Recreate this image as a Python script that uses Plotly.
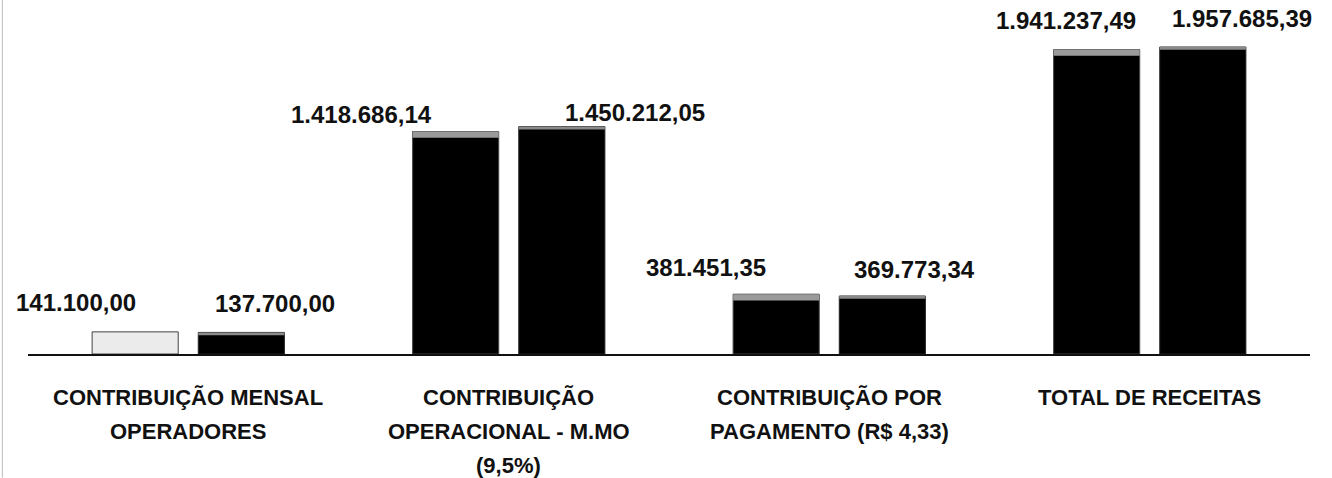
import plotly.graph_objects as go

categories = ["CONTRIBUIÇÃO MENSAL\nOPERADORES",
              "CONTRIBUIÇÃO\nOPERACIONAL - M.MO\n(9,5%)",
              "CONTRIBUIÇÃO POR\nPAGAMENTO (R$ 4,33)",
              "TOTAL DE RECEITAS"]
series_a = [141100.00, 1418686.14, 381451.35, 1941237.49]
series_b = [137700.00, 1450212.05, 369773.34, 1957685.39]

def fmt(v):
    s = f"{v:,.2f}"
    return s.replace(",", "X").replace(".", ",").replace("X", ".")

xs = list(range(len(categories)))
font = "Liberation Sans"

fig = go.Figure()
fig.add_trace(go.Bar(x=xs, y=series_a, name="A", offsetgroup="A",
                     marker=dict(color=["#ebebeb", "#000000", "#000000", "#000000"],
                                 line=dict(color="#444444", width=1))))
fig.add_trace(go.Bar(x=xs, y=series_b, name="B", offsetgroup="B",
                     marker=dict(color="#000000", line=dict(color="#222222", width=1))))

# subtle light band at the top of the dark bars (3D bevel look)
band_a, band_b = 40000, 18000
fig.add_trace(go.Bar(x=xs[1:], y=[band_a] * 3, base=[v - band_a for v in series_a[1:]],
                     offsetgroup="A", marker=dict(color="#9a9a9a", line=dict(width=0)),
                     hoverinfo="skip"))
fig.add_trace(go.Bar(x=xs, y=[band_b] * 4, base=[v - band_b for v in series_b],
                     offsetgroup="B", marker=dict(color="#8a8a8a", line=dict(width=0)),
                     hoverinfo="skip"))

# value label offsets (style)
a_dx = [-59, -94, -70, -31]
a_dy = [29, 17, 27, 29]
b_dx = [34, 73, 32, 39]
b_dy = [29, 14, 27, 29]
bar_off = 53  # pixel distance from category centre to bar centre

ann = []
for i in xs:
    ann.append(dict(x=i, y=series_a[i], xref="x", yref="y", text=f"<b>{fmt(series_a[i])}</b>",
                    showarrow=False, xshift=-bar_off + a_dx[i], yshift=a_dy[i],
                    font=dict(family=font, size=24, color="#111"), yanchor="middle"))
    ann.append(dict(x=i, y=series_b[i], xref="x", yref="y", text=f"<b>{fmt(series_b[i])}</b>",
                    showarrow=False, xshift=bar_off + b_dx[i], yshift=b_dy[i],
                    font=dict(family=font, size=24, color="#111"), yanchor="middle"))
    for k, line in enumerate(categories[i].split("\n")):
        ann.append(dict(x=i, y=0, xref="x", yref="y", text=f"<b>{line}</b>",
                        showarrow=False, yanchor="middle", yshift=-43 - 34 * k,
                        font=dict(family=font, size=22, color="#111")))

fig.update_layout(
    width=1332, height=478,
    margin=dict(l=28, r=22, t=20, b=124),
    paper_bgcolor="white", plot_bgcolor="white",
    barmode="group", bargap=0.3375, bargroupgap=0.189,
    showlegend=False,
    annotations=ann,
    shapes=[dict(type="line", xref="paper", yref="paper", x0=-0.02, x1=-0.02, y0=-0.37, y1=1.06,
                 line=dict(color="#bbbbbb", width=1))],
)
fig.update_xaxes(range=[-0.5, 3.5], showticklabels=False, showgrid=False, zeroline=False,
                 showline=True, linecolor="#111", linewidth=1.5, ticks="")
fig.update_yaxes(range=[0, 2.13e6], visible=False)

fig.write_html("out.html", config={"displayModeBar": False},
               post_script="document.body.style.margin='0';")
